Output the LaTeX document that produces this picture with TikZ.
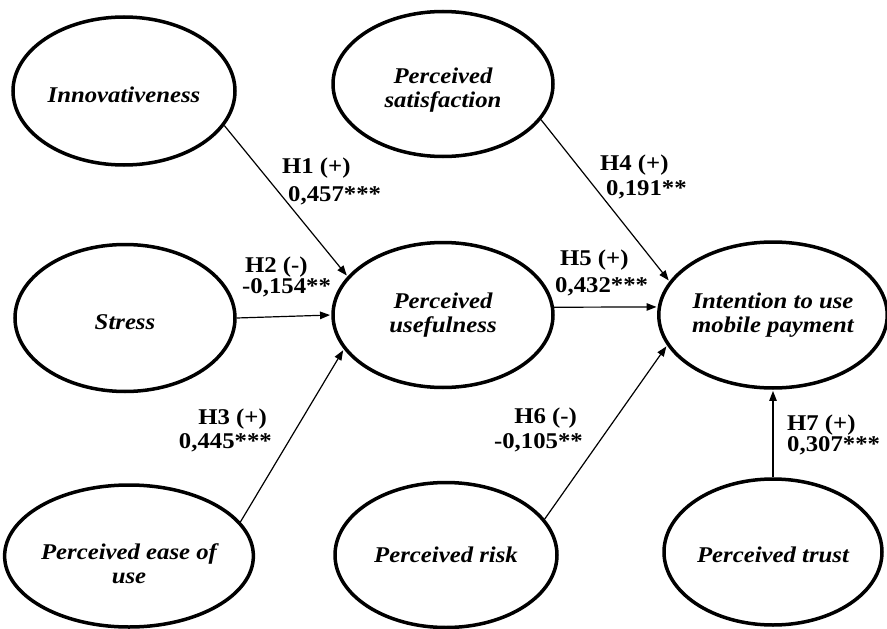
\documentclass[tikz,border=0pt]{standalone}
\usepackage{fontspec}
\setmainfont{Liberation Serif}[FakeStretch=1.1]
\usetikzlibrary{shapes.geometric,arrows.meta}
\begin{document}
\begin{tikzpicture}[x=1pt,y=-1pt,
  construct/.style={ellipse, draw, line width=3.5pt, inner sep=0pt, align=center,
    font=\bfseries\itshape\fontsize{22.5}{24}\selectfont},
  link/.style={line width=1.2pt, shorten >=1.2pt, -{Triangle[length=10pt,width=7.5pt]}},
  hyp/.style={font=\bfseries\fontsize{22.5}{24}\selectfont, inner sep=0pt}
]
\fill[white] (0,0) rectangle (887,629);
\useasboundingbox (0,0) rectangle (887,629);

\node[construct, minimum width=222pt, minimum height=148pt] (inn) at (124,91) {\rule{0pt}{23pt}Innovativeness};
\node[construct, minimum width=220pt, minimum height=145pt] (sat) at (443,84) {\rule{0pt}{27pt}Perceived\\satisfaction};
\node[construct, minimum width=220pt, minimum height=147pt] (st) at (125,318) {\rule{0pt}{23pt}Stress};
\node[construct, minimum width=220pt, minimum height=145pt] (pu) at (443,315) {Perceived\\usefulness};
\node[construct, minimum width=223pt, minimum height=146pt] (pi) at (773,315) {Intention to use\\mobile payment};
\node[construct, minimum width=224pt, minimum height=142pt] (peou) at (129,556) {\rule{0pt}{31pt}Perceived ease of\\use};
\node[construct, minimum width=222pt, minimum height=145pt] (risk) at (446,555) {Perceived risk};
\node[construct, minimum width=218pt, minimum height=146pt] (trust) at (773,552) {\rule{0pt}{21pt}Perceived trust};

\draw[link] (inn.-19) -- (pu.158.8);
\draw[link] (st.east) -- (pu.west);
\draw[link] (peou.17.4) -- (pu.-161.6);
\draw[link] (sat.-20) -- (pi.162.6);
\draw[link] (pu.4) -- (pi.176);
\draw[link] (risk.20) -- (pi.-164.5);
\draw[link] (trust.north) -- (pi.south);

\node[hyp, anchor=west, align=left] (l1) at (282,181) {H1 (+)\\[4pt]\hspace*{6pt}0,457***};
\node[hyp, anchor=west, align=left] (l2) at (242,277) {\hspace*{3pt}H2 (-)\\[-3pt]-0,154**};
\node[hyp, anchor=east, align=right] (l3) at (272,430) {H3 (+)\kern5pt\\0,445***};
\node[hyp, anchor=west, align=left] (l4) at (600,177) {H4 (+)\\[1pt]\hspace*{6pt}0,191**};
\node[hyp, anchor=west, align=left] (l5) at (555,273) {\hspace*{5pt}H5 (+)\\[3pt]0,432***};
\node[hyp, anchor=east, align=right] (l6) at (583,430) {H6 (-)\kern6pt\\[1pt]-0,105**};
\node[hyp, anchor=west, align=left] (l7) at (787,435) {H7 (+)\\[-3pt]0,307***};
\end{tikzpicture}
\end{document}
